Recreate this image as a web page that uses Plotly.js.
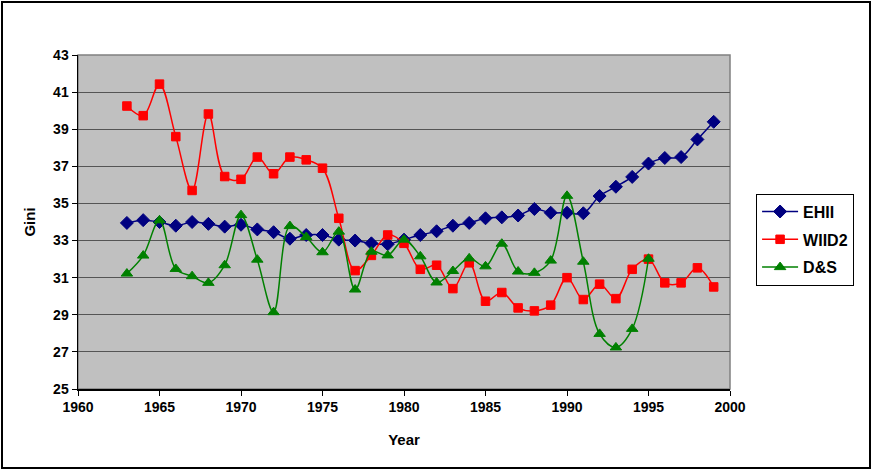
<!DOCTYPE html>
<html>
<head>
<meta charset="utf-8">
<script src="https://cdn.plot.ly/plotly-3.0.1.min.js"></script>
<style>
  html, body { margin: 0; padding: 0; background: #fff; }
  #wrap { position: relative; width: 874px; height: 470px; }
  #chart { width: 874px; height: 470px; }
  #frame { position: absolute; left: 1px; top: 1px; width: 866px; height: 464px;
           border: 2px solid #000; pointer-events: none; }
</style>
</head>
<body>
<div id="wrap">
  <div id="chart"></div>
  <div id="frame"></div>
</div>
<script>
// Gini coefficients by year for three inequality datasets
const years = [1963,1964,1965,1966,1967,1968,1969,1970,1971,1972,1973,1974,1975,1976,1977,1978,1979,1980,
               1981,1982,1983,1984,1985,1986,1987,1988,1989,1990,1991,1992,1993,1994,1995,1996,1997,1998,1999];

const ehii = [33.95,34.1,34.0,33.8,34.0,33.9,33.75,33.85,33.6,33.45,33.1,33.3,33.3,33.05,33.0,32.85,32.8,33.05,
              33.3,33.5,33.8,33.95,34.2,34.25,34.35,34.7,34.5,34.5,34.47,35.4,35.9,36.43,37.15,37.45,37.5,38.45,39.4];

const wiid2 = [40.25,39.73,41.43,38.6,35.7,39.82,36.45,36.3,37.5,36.6,37.5,37.35,36.9,34.2,31.38,32.2,33.3,32.85,
               31.45,31.67,30.41,31.8,29.73,30.2,29.37,29.21,29.52,31.0,29.82,30.65,29.87,31.45,32.0,30.72,30.72,31.53,30.5];

const dsYears = years.slice(0, 33);   // 1963-1995
const ds = [31.22,32.19,34.09,31.47,31.08,30.72,31.67,34.37,31.97,29.14,33.78,33.19,32.37,33.48,30.36,32.4,32.2,33.05,
            32.15,30.74,31.36,32.04,31.61,32.83,31.33,31.26,31.92,35.41,31.86,27.97,27.24,28.24,32.02];

const seriesNames = ['EHII', 'WIID2', 'D&S'];
const xTicks = [1960,1965,1970,1975,1980,1985,1990,1995,2000];
const yTicks = [25,27,29,31,33,35,37,39,41,43];

const font = 'Liberation Sans, Arial, sans-serif';
const bold = v => '<b>' + v + '</b>';

function series(name, x, y, color, symbol, size) {
  return {
    type: 'scatter', mode: 'lines+markers', name: bold(name.replace('&', '&amp;')), x: x, y: y,
    legendgroup: name,
    line: { color: color, width: 1.5, shape: 'spline', smoothing: 1 },
    marker: { color: color, symbol: symbol, size: size, line: { color: color, width: 1 } }
  };
}

const data = [
  series(seriesNames[0], years, ehii, '#000080', 'diamond', 10),
  series(seriesNames[1], years, wiid2, '#FF0000', 'square', 8.5),
  series(seriesNames[2], dsYears, ds, '#008000', 'triangle-up', 10)
];

const layout = {
  width: 874, height: 470,
  margin: { l: 78, r: 144, t: 55, b: 81 },
  paper_bgcolor: '#ffffff',
  plot_bgcolor: '#C0C0C0',
  font: { family: font, color: '#000', size: 13 },
  showlegend: true,
  legend: {
    x: 1.04, y: 0.585, xanchor: 'left', yanchor: 'top',
    bgcolor: '#ffffff', bordercolor: '#000', borderwidth: 1,
    font: { family: font, size: 16, color: '#000' },
    tracegroupgap: 4, itemsizing: 'trace', itemwidth: 36
  },
  xaxis: {
    range: [1960, 2000], tickvals: xTicks, ticktext: xTicks.map(bold),
    showgrid: false, zeroline: false,
    showline: true, linecolor: '#000', linewidth: 1.5,
    ticks: 'outside', ticklen: 5, tickcolor: '#000', tickwidth: 1,
    tickfont: { family: font, size: 14, color: '#000' },
    title: { text: bold('Year'), font: { family: font, size: 15, color: '#000' }, standoff: 20 }
  },
  yaxis: {
    range: [25, 43], tickvals: yTicks, ticktext: yTicks.map(bold),
    showgrid: true, gridcolor: '#555555', gridwidth: 1.2, zeroline: false,
    showline: true, linecolor: '#000', linewidth: 1.5,
    ticks: 'outside', ticklen: 5, tickcolor: '#000', tickwidth: 1,
    tickfont: { family: font, size: 14, color: '#000' },
    title: { text: bold('Gini'), font: { family: font, size: 15, color: '#000' }, standoff: 14 }
  },
  shapes: [
    { type: 'rect', xref: 'paper', yref: 'paper', x0: 0, x1: 1, y0: 0, y1: 1,
      line: { color: '#808080', width: 1.5 }, fillcolor: 'rgba(0,0,0,0)', layer: 'below' }
  ]
};

Plotly.newPlot('chart', data, layout, { displayModeBar: false, staticPlot: true });
</script>
</body>
</html>
